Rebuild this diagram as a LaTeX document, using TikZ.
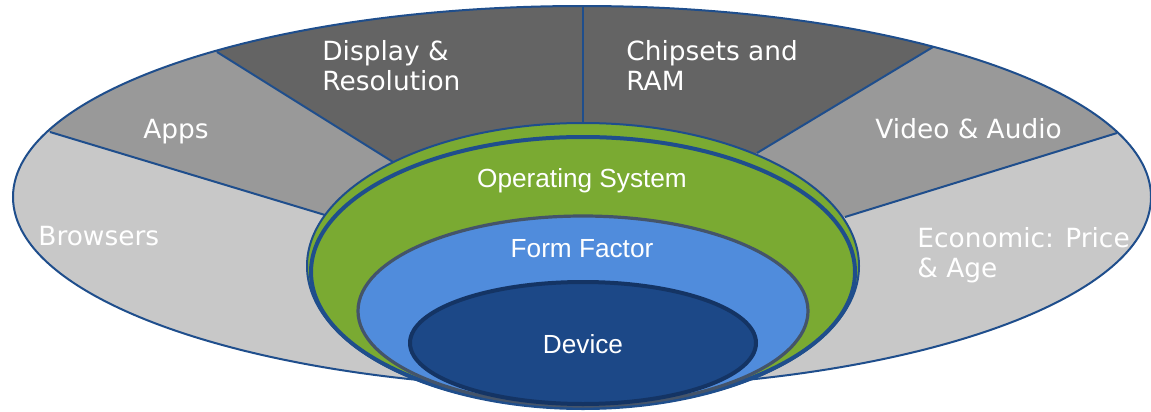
\documentclass[tikz,border=0pt]{standalone}
\usepackage{fontspec}
\newfontfamily\outerfont{DejaVu Sans}
\newfontfamily\innerfont{Liberation Sans}
\usetikzlibrary{calc}
\definecolor{lgrey}{RGB}{200,200,200}
\definecolor{mgrey}{RGB}{153,153,153}
\definecolor{dgrey}{RGB}{100,100,100}
\definecolor{lineblue}{RGB}{31,78,140}
\definecolor{osgreen}{RGB}{122,170,50}
\definecolor{ffblue}{RGB}{80,140,220}
\definecolor{ffborder}{RGB}{68,84,106}
\definecolor{devblue}{RGB}{28,72,135}
\definecolor{devborder}{RGB}{20,52,100}
\tikzset{
  divider/.style={draw=lineblue, line width=1pt},
  outerlabel/.style={text=white, font=\outerfont\fontsize{13.2}{15}\selectfont, inner sep=0pt, align=left},
  innerlabel/.style={text=white, font=\innerfont\fontsize{13.1}{15}\selectfont, inner sep=0pt},
}
\begin{document}
\begin{tikzpicture}[x=0.5pt, y=-0.5pt]
\useasboundingbox (0,0) rectangle (1151,412);
% outer points
\coordinate (c) at (582,197);
\coordinate (gc) at (583,266);
\coordinate (o1) at (50,132);
\coordinate (o2) at (217,52);
\coordinate (o3) at (583,6);
\coordinate (o4) at (933,47);
\coordinate (o5) at (1117,133);
\coordinate (i1) at (325,215);
\coordinate (i2) at (393,162);
\coordinate (i3) at (583,123);
\coordinate (i4) at (757,153);
\coordinate (i5) at (845,217);
% segment fills
\fill[lgrey] (c) ellipse [x radius=569, y radius=191];
\begin{scope}
  \clip (c) ellipse [x radius=569, y radius=191];
  \fill[mgrey] (i1) -- ($(o1)!-1!(i1)$) -- (-300,-300) -- (1450,-300)
     -- ($(o5)!-1!(i5)$) -- (i5) -- (gc) -- cycle;
  \fill[dgrey] (i2) -- ($(o2)!-1!(i2)$) -- (0,-300) -- (1151,-300)
     -- ($(o4)!-1!(i4)$) -- (i4) -- (gc) -- cycle;
\end{scope}
\draw[divider] (o1) -- (i1);
\draw[divider] (o2) -- (i2);
\draw[divider] (o3) -- (i3);
\draw[divider] (o4) -- (i4);
\draw[divider] (o5) -- (i5);
\draw[divider] (c) ellipse [x radius=569, y radius=191];
% inner stack
\filldraw[fill=osgreen, draw=lineblue, line width=1pt] (gc) ellipse [x radius=276, y radius=143];
\filldraw[fill=osgreen, draw=lineblue, line width=2pt] (583,272) ellipse [x radius=272, y radius=135];
\filldraw[fill=ffblue, draw=ffborder, line width=1.6pt] (583,311) ellipse [x radius=225, y radius=95];
\filldraw[fill=devblue, draw=devborder, line width=2pt] (583,343) ellipse [x radius=173, y radius=61];
% labels
\node[outerlabel, anchor=base west] (disp) at (322,90) {Display \&\\Resolution};
\node[outerlabel, anchor=base west] (chip) at (626,90) {Chipsets and\\RAM};
\node[outerlabel, anchor=base west] (apps) at (143,138) {Apps};
\node[outerlabel, anchor=base west] (brow) at (38,245) {Browsers};
\node[outerlabel, anchor=base west] (video) at (875,138) {Video \& Audio};
\node[outerlabel, anchor=base west] (econ) at (917,277) {Economic: Price\\\& Age};
\node[innerlabel, anchor=base] (os) at (582,187) {Operating System};
\node[innerlabel, anchor=base] (ff) at (582,257) {Form Factor};
\node[innerlabel, anchor=base] (dev) at (583,353) {Device};
\end{tikzpicture}
\end{document}
